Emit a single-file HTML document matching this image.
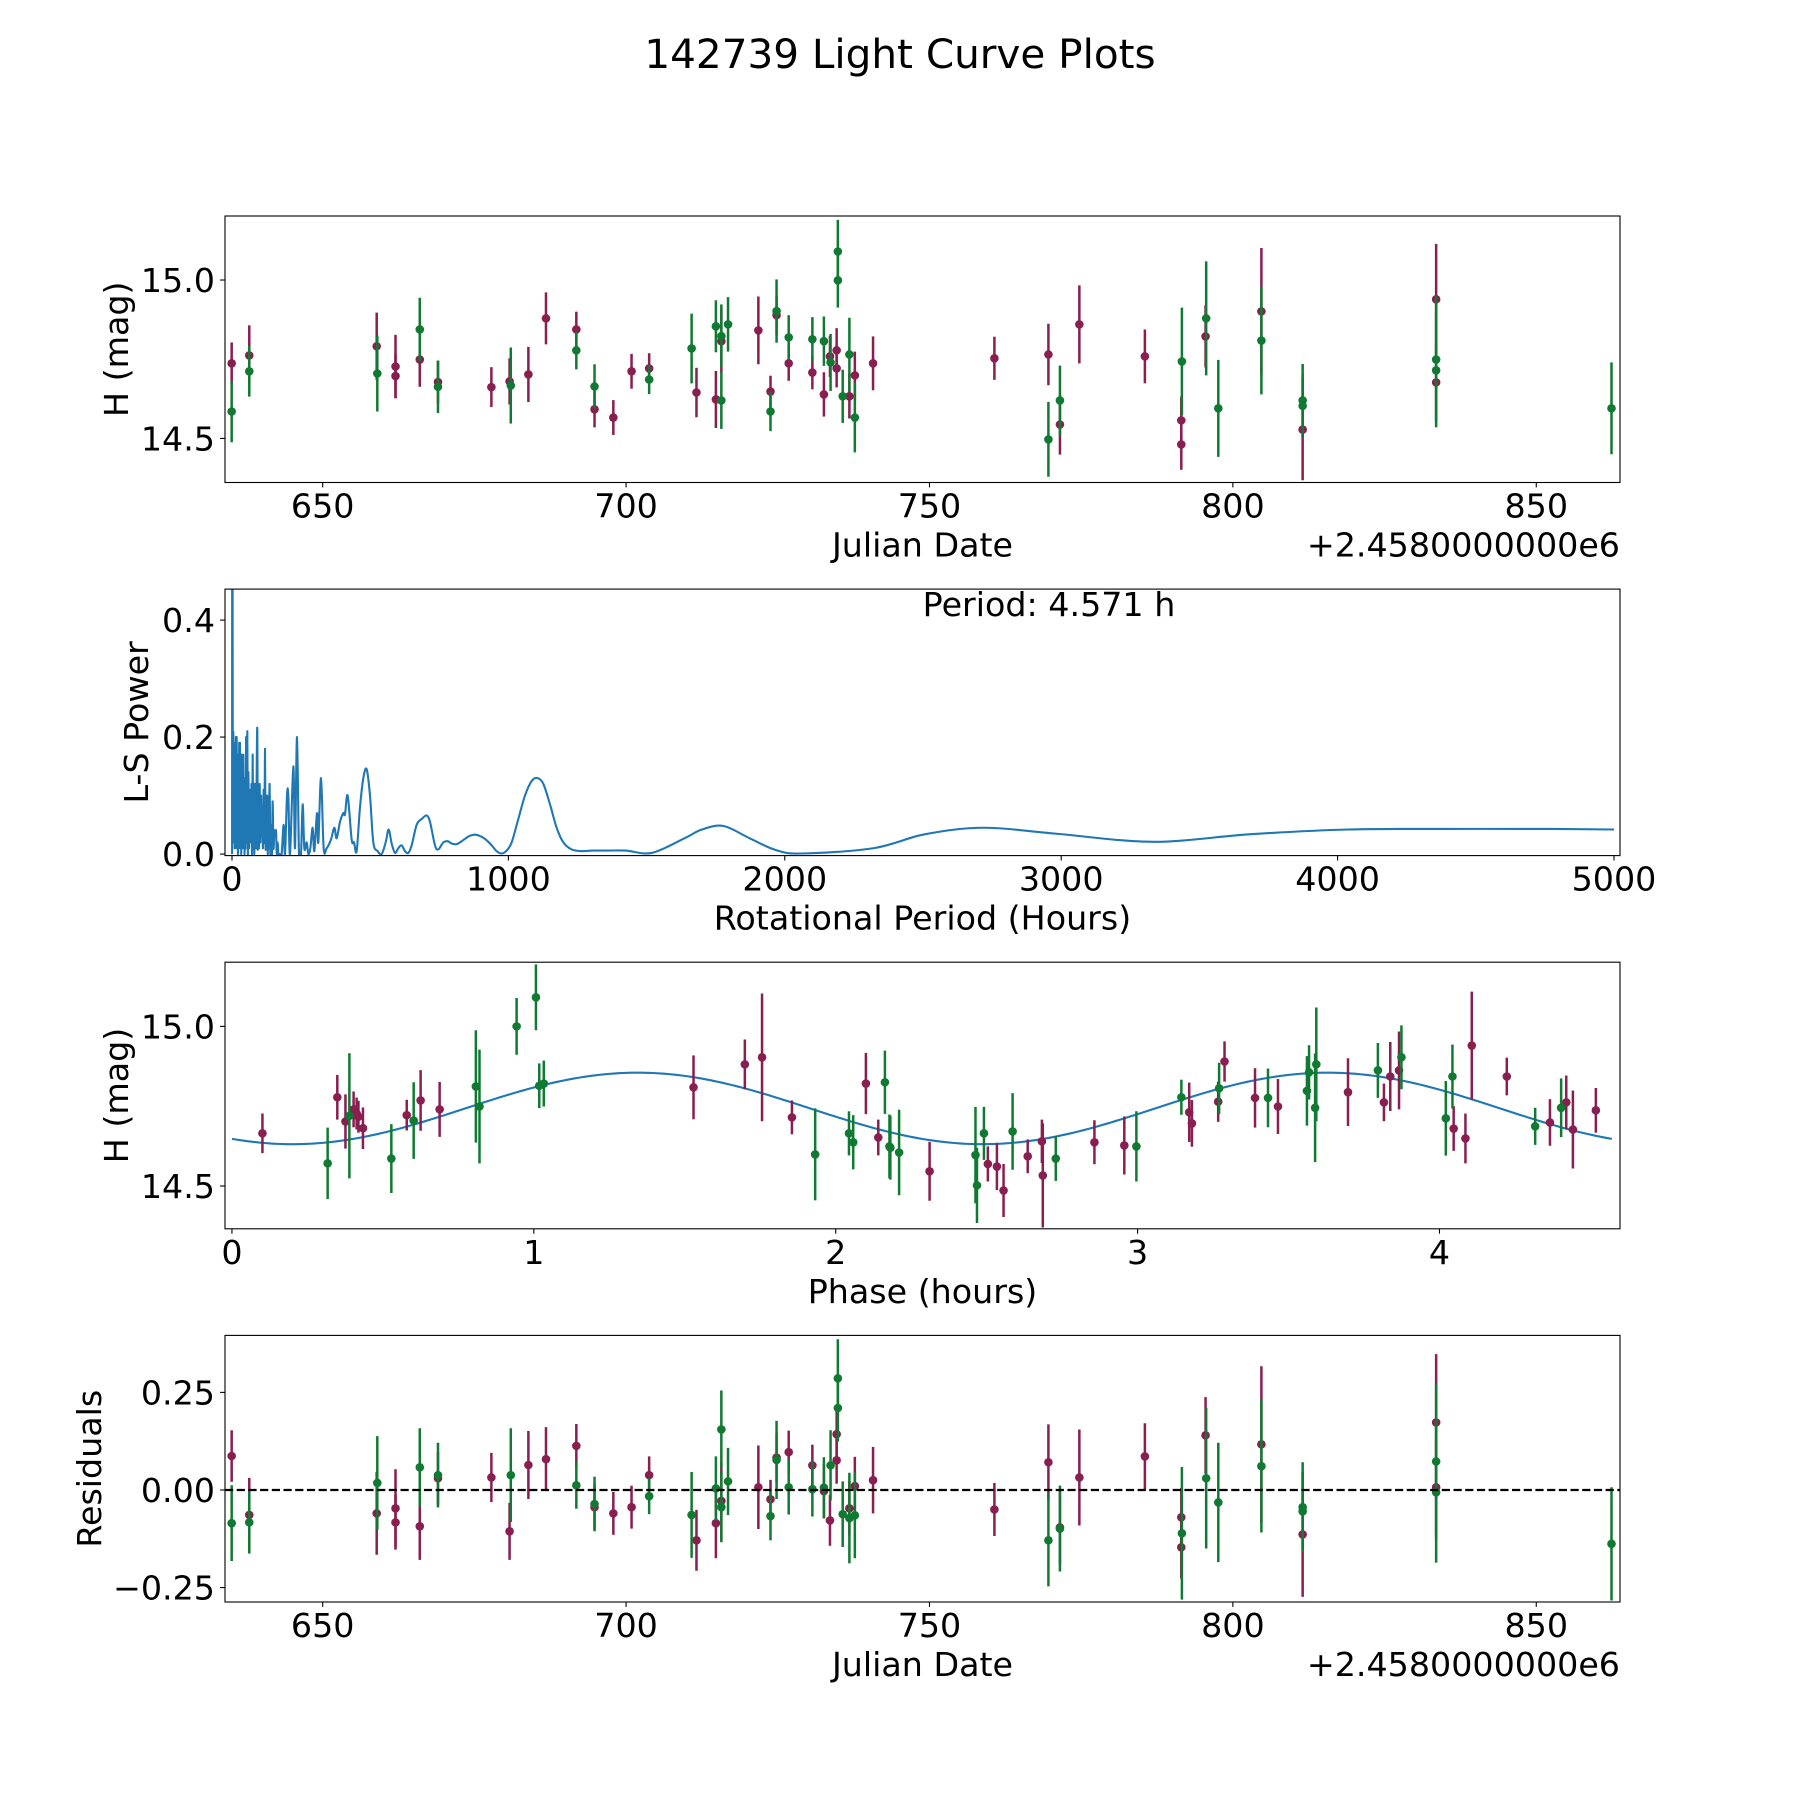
<!DOCTYPE html>
<html><head><meta charset="utf-8"><title>142739 Light Curve Plots</title>
<style>
html,body{margin:0;padding:0;background:#fff}
svg{display:block}
text{font-family:"DejaVu Sans","Liberation Sans",sans-serif;fill:#000}
</style></head>
<body>
<svg id="fig" xmlns="http://www.w3.org/2000/svg" width="1800" height="1800" viewBox="0 0 1800 1800">
<rect x="0" y="0" width="1800" height="1800" fill="#fff"/>
<text x="900" y="68" font-size="40.5" text-anchor="middle">142739 Light Curve Plots</text>
</svg>
<script>
// ---------- Panel 1 / 4 data: observations (two filters) ----------
const magDates = [635.0,637.9,658.9,662.0,662.0,666.0,669.0,677.8,680.8,683.9,686.8,691.8,694.8,697.9,700.9,703.8,711.6,714.8,715.7,721.8,723.8,724.8,726.8,730.7,732.6,733.6,734.7,734.7,736.8,737.7,740.7,760.7,769.6,771.5,774.7,785.5,791.5,791.5,795.5,804.7,811.5,833.5,833.5];
const magH = [14.737,14.762,14.791,14.727,14.697,14.749,14.678,14.662,14.68,14.702,14.879,14.844,14.592,14.566,14.712,14.721,14.645,14.623,14.807,14.841,14.648,14.889,14.737,14.708,14.639,14.759,14.778,14.721,14.633,14.699,14.737,14.753,14.765,14.544,14.86,14.759,14.557,14.481,14.822,14.901,14.528,14.939,14.677];
const magErr = [.066,.095,.106,.1,.07,.086,.068,.063,.073,.087,.082,.056,.057,.055,.055,.048,.078,.09,.1,.107,.05,.062,.055,.053,.07,.065,.07,.06,.07,.075,.085,.068,.097,.095,.123,.085,.075,.08,.098,.2,.16,.175,.12];
const magRes = [.087,-.064,-.06,-.047,-.083,-.093,.03,.032,-.106,.064,.079,.113,-.044,-.06,-.044,.038,-.129,-.085,-.028,.007,-.024,.083,.097,.063,-.003,-.078,.143,.076,-.047,.01,.025,-.05,.071,-.096,.032,.086,-.07,-.147,.14,.117,-.114,.173,.007];

const grnDates = [635.0,637.9,659.0,666.0,669.0,681.0,691.8,694.8,703.8,710.8,714.8,715.7,715.7,716.8,723.8,724.8,726.8,730.7,732.6,733.7,734.9,734.9,736.8,735.7,737.7,769.6,771.5,791.6,795.6,797.6,804.7,811.5,811.5,833.5,833.5,862.4];
const grnH = [14.585,14.712,14.705,14.844,14.663,14.667,14.778,14.664,14.686,14.784,14.854,14.823,14.62,14.86,14.585,14.902,14.819,14.813,14.807,14.74,15.09,14.999,14.765,14.633,14.566,14.497,14.62,14.743,14.879,14.595,14.809,14.62,14.603,14.749,14.715,14.595];
const grnErr = [.097,.08,.12,.1,.083,.12,.06,.07,.046,.11,.082,.1,.09,.086,.062,.1,.07,.07,.078,.09,.1,.086,.116,.084,.11,.118,.11,.17,.18,.153,.17,.115,.1,.2,.18,.145];
const grnRes = [-.085,-.083,.018,.058,.038,.038,.012,-.036,-.016,-.064,.004,.155,-.044,.022,-.067,.077,.007,.002,.006,.063,.286,.21,-.072,-.062,-.065,-.129,-.099,-.111,.03,-.032,.061,-.044,-.055,.073,-.006,-.138];

// ---------- Panel 2 data: Lomb-Scargle periodogram ----------
const lsPeriod = [0.3,1.2,3,4.8,6.5,8,9.5,10.9,12.5,14,15.5,16.9,18.5,20,21.5,22.9,24.5,26,27.5,28.9,30.5,32,33.5,35,36.5,38,39.5,41,42.5,44,45.5,47,49,51,53,55.5,57.5,59.5,61.5,63.5,65.5,67,68.7,70.5,72.5,74.8,77,79,80.8,82.5,84,85.6,87.5,89.5,91.7,93.5,95.5,97.7,100,102.5,105,107.5,109.7,112,114.5,117,119.4,121.5,123.5,125.4,127.5,129.5,131.4,133.5,136,138.7,141,144.7,147,150,153.2,156,159.2,162,165,167.6,170,173.7,179.7,186.9,191.8,199,203.8,209.8,221.9,227.9,235.2,242.4,249.6,255.7,261.7,270.1,276.2,283.4,291.8,297.9,307.5,312.3,322,331.6,342.5,358.2,370.2,378.7,390.7,402.8,408.8,418.5,432.9,441.4,451,463.1,475.2,487.2,499.3,511.3,527,541.5,556,566.8,577.7,589.7,601.8,613.8,625.9,638,650,668.1,686.2,704.3,716.4,734.4,746.5,764.6,780.3,794.7,812.8,830.9,855,873.1,891.2,915.3,939.5,957.6,975.6,993.7,1011.8,1035.9,1060,1084.2,1104.7,1126.4,1150.5,1174.6,1198.7,1228.9,1265.1,1301.3,1331,1361.6,1425,1519,1637,1700,1778,1873,1967,2061,2320,2508,2720,2979,3332,3686,4039,4392,4745,5000];
const lsPower = [0.0,0.9,0.05,0.209,0.02,0.19,0.01,0.18,0.03,0.2,0.01,0.2,0.04,0.17,0.0,0.15,0.02,0.19,0.01,0.19,0.05,0.16,0.0,0.17,0.02,0.15,0.01,0.17,0.03,0.12,0.0,0.13,0.01,0.2,0.02,0.21,0.0,0.14,0.01,0.11,0.03,0.09,0.02,0.12,0.0,0.17,0.01,0.1,0.0,0.12,0.02,0.1,0.01,0.15,0.21,0.01,0.09,0.01,0.12,0.02,0.1,0.03,0.08,0.01,0.11,0.02,0.18,0.01,0.07,0.01,0.1,0.0,0.08,0.01,0.12,0.0,0.05,0.0,0.09,0.01,0.04,0.03,0.04,0.0,0.02,0.0,0.0,0.0,0.0,0.05,0.0,0.1,0.1,0.0,0.15,0.01,0.2,0.0,0.0,0.085,0.01,0.02,0.0,0.01,0.045,0.005,0.07,0.02,0.13,0.01,0.01,0.025,0.045,0.027,0.055,0.07,0.068,0.1,0.025,0.02,0.005,0.08,0.13,0.145,0.1,0.02,0.005,0.0,0.02,0.042,0.018,0.002,0.01,0.015,0.005,0.002,0.015,0.05,0.06,0.066,0.055,0.015,0.008,0.02,0.022,0.018,0.017,0.022,0.03,0.033,0.032,0.026,0.015,0.005,0.001,0.006,0.02,0.06,0.1,0.125,0.13,0.12,0.085,0.045,0.02,0.008,0.005,0.006,0.006,0.006,0.006,0.002,0.027,0.042,0.048,0.027,0.007,0.001,0.01,0.034,0.045,0.035,0.021,0.034,0.042,0.043,0.043,0.042];
const periodLabel = "Period: 4.571 h";

// ---------- Panel 3 data: phase-folded ----------
const magPhase = [0.101,0.349,0.376,0.403,0.413,0.419,0.434,0.579,0.625,0.688,1.529,1.699,1.756,1.855,2.1,2.141,2.311,2.504,2.534,2.556,2.636,2.683,2.686,2.857,2.956,3.171,3.18,3.267,3.288,3.389,3.465,3.697,3.816,3.837,3.866,4.047,4.086,4.107,4.223,4.366,4.42,4.442,4.518];
const magPhH = [14.665,14.778,14.702,14.74,14.727,14.717,14.681,14.722,14.768,14.74,14.809,14.881,14.903,14.715,14.821,14.652,14.546,14.569,14.561,14.486,14.593,14.64,14.533,14.637,14.627,14.731,14.696,14.764,14.89,14.776,14.749,14.794,14.762,14.843,14.862,14.68,14.649,14.94,14.843,14.699,14.762,14.677,14.737];
const magPhErr = [.062,.07,.085,.056,.05,.05,.065,.048,.095,.086,.1,.078,.2,.053,.096,.056,.092,.055,.074,.083,.053,.068,.163,.069,.091,.093,.073,.063,.063,.093,.086,.106,.059,.108,.122,.07,.078,.169,.059,.073,.084,.122,.07];
const grnPhase = [0.317,0.389,0.528,0.602,0.808,0.82,0.943,1.007,1.018,1.033,1.932,2.044,2.058,2.163,2.178,2.181,2.21,2.463,2.468,2.491,2.586,2.729,2.996,3.145,3.27,3.432,3.561,3.568,3.592,3.588,3.796,3.874,4.021,4.043,4.317,4.403];
const grnPhH = [14.571,14.72,14.586,14.705,14.812,14.749,15.0,15.091,14.814,14.821,14.599,14.665,14.637,14.825,14.624,14.62,14.605,14.597,14.502,14.665,14.671,14.586,14.624,14.778,14.806,14.776,14.798,14.856,14.881,14.745,14.862,14.903,14.712,14.843,14.687,14.745];
const grnPhErr = [.112,.196,.108,.12,.176,.178,.089,.103,.07,.072,.144,.069,.085,.099,.1,.1,.134,.151,.118,.083,.12,.07,.11,.055,.08,.092,.109,.085,.178,.17,.086,.1,.117,.1,.058,.092];
const fitMean = 14.743, fitAmp = 0.112, fitPeakPhase = 1.344, fitPeriod = 4.571;

// ---------- Tick labels ----------
const jdTicks = [650,700,750,800,850];
const magTicks = [14.5,15.0];
const lsXTicks = [0,1000,2000,3000,4000,5000];
const lsYTicks = [0.0,0.2,0.4];
const phaseTicks = [0,1,2,3,4];
const resTicks = [-0.25,0.0,0.25];

const NS = "http://www.w3.org/2000/svg";
const fig = document.getElementById('fig');
const MAG = '#891e50', GRN = '#117a32', BLUE = '#1f77b4';
const FS = 33.3;

function mk(tag, attrs, parent){
  const e = document.createElementNS(NS, tag);
  for (const k in attrs) e.setAttribute(k, attrs[k]);
  (parent||fig).appendChild(e);
  return e;
}
function makeAxis(name, L, R, T, B, xlim, ylim){
  const g = mk('g', {});
  
  
  const cid = 'clip-' + name;
  const cp = mk('clipPath', {id: cid}, g);
  mk('rect', {x: L, y: T, width: R-L, height: B-T}, cp);
  const plot = mk('g', {'clip-path': 'url(#' + cid + ')'}, g);
  
  
  return {g, plot, L, R, T, B,
    sx: v => L + (v - xlim[0]) / (xlim[1] - xlim[0]) * (R - L),
    sy: v => B - (v - ylim[0]) / (ylim[1] - ylim[0]) * (B - T)};
}
function frame(ax){
  const r = mk('rect', {x: ax.L, y: ax.T, width: ax.R-ax.L, height: ax.B-ax.T, fill: 'none', stroke: '#000', 'stroke-width': 1.1}, ax.g);
  
  
}
function xTicks(ax, vals, fmt){
  vals.forEach(v => {
    const x = ax.sx(v);
    mk('line', {x1: x, x2: x, y1: ax.B, y2: ax.B + 4.9, stroke: '#000', 'stroke-width': 1.1}, ax.g);
    const t = mk('text', {x: x, y: ax.B + 35, 'font-size': FS, 'text-anchor': 'middle'}, ax.g);
    t.textContent = fmt(v);
    
    
  });
}
function yTicks(ax, vals, fmt){
  vals.forEach(v => {
    const y = ax.sy(v);
    mk('line', {x1: ax.L - 4.9, x2: ax.L, y1: y, y2: y, stroke: '#000', 'stroke-width': 1.1}, ax.g);
    const t = mk('text', {x: ax.L - 10, y: y + 12, 'font-size': FS, 'text-anchor': 'end'}, ax.g);
    t.textContent = fmt(v);
    
    
  });
}
function xLabel(ax, txt, name){
  const t = mk('text', {x: (ax.L + ax.R)/2, y: ax.B + 74, 'font-size': FS, 'text-anchor': 'middle'}, ax.g);
  t.textContent = txt;
  
  
}
function yLabel(ax, txt, bx, name){
  const cy = (ax.T + ax.B)/2;
  const t = mk('text', {x: bx, y: cy, 'font-size': FS, 'text-anchor': 'middle', transform: 'rotate(-90 ' + bx + ' ' + cy + ')'}, ax.g);
  t.textContent = txt;
  
  
}
function offsetText(ax){
  const t = mk('text', {x: ax.R, y: ax.B + 74, 'font-size': FS, 'text-anchor': 'end'}, ax.g);
  t.textContent = '+2.4580000000e6';
  
  
}
function errPoints(ax, xs, ys, es, color, name){
  const g = mk('g', {}, ax.plot);
  
  
  xs.forEach((xv, i) => {
    const x = ax.sx(xv);
    const l = mk('line', {x1: x, x2: x, y1: ax.sy(ys[i] - es[i]), y2: ax.sy(ys[i] + es[i]), stroke: color, 'stroke-width': 2.5}, g);
    
    
    const c = mk('circle', {cx: x, cy: ax.sy(ys[i]), r: 4.3, fill: color}, g);
    
    
  });
}
function smoothPath(pts){
  let d = 'M' + pts[0][0].toFixed(2) + ' ' + pts[0][1].toFixed(2);
  for (let i = 0; i < pts.length - 1; i++) {
    const p0 = pts[Math.max(0, i-1)], p1 = pts[i], p2 = pts[i+1], p3 = pts[Math.min(pts.length-1, i+2)];
    const c1x = p1[0] + (p2[0]-p0[0])/6, c1y = p1[1] + (p2[1]-p0[1])/6;
    const c2x = p2[0] - (p3[0]-p1[0])/6, c2y = p2[1] - (p3[1]-p1[1])/6;
    d += 'C' + c1x.toFixed(2) + ' ' + c1y.toFixed(2) + ' ' + c2x.toFixed(2) + ' ' + c2y.toFixed(2) + ' ' + p2[0].toFixed(2) + ' ' + p2[1].toFixed(2);
  }
  return d;
}
const jdFmt = v => String(v);
const magFmt = v => v.toFixed(1);

// ---------- Panel 1 ----------
const ax1 = makeAxis('light-curve-panel', 225, 1620, 216, 482.5, [633.9, 863.8], [14.361, 15.202]);
errPoints(ax1, magDates, magH, magErr, MAG, 'filter-1-series');
errPoints(ax1, grnDates, grnH, grnErr, GRN, 'filter-2-series');
frame(ax1); xTicks(ax1, jdTicks, jdFmt); yTicks(ax1, magTicks, magFmt);
xLabel(ax1, 'Julian Date', 'x-axis-title'); offsetText(ax1); yLabel(ax1, 'H (mag)', 128, 'y-axis-title');

// ---------- Panel 2 ----------
const ax2 = makeAxis('periodogram-panel', 225, 1620, 589.1, 855.6, [-25.3, 5021.7], [-0.0026, 0.453]);
const lsPts = lsPeriod.map((p, i) => [ax2.sx(p), ax2.sy(lsPower[i])]);
const ls = mk('path', {d: smoothPath(lsPts), fill: 'none', stroke: BLUE, 'stroke-width': 2.1, 'stroke-linejoin': 'round'}, ax2.plot);


frame(ax2); xTicks(ax2, lsXTicks, v => String(v)); yTicks(ax2, lsYTicks, v => v.toFixed(1));
xLabel(ax2, 'Rotational Period (Hours)', 'x-axis-title'); yLabel(ax2, 'L-S Power', 148, 'y-axis-title');
const pt = mk('text', {x: 1049, y: 616, 'font-size': FS, 'text-anchor': 'middle'}, ax2.g);
pt.textContent = periodLabel;



// ---------- Panel 3 ----------
const ax3 = makeAxis('phase-folded-panel', 225, 1620, 962.2, 1228.8, [-0.023, 4.598], [14.366, 15.201]);
let d3 = '';
for (let i = 0; i <= 300; i++) {
  const ph = fitPeriod * i / 300;
  const m = fitMean + fitAmp * Math.cos(2 * Math.PI * (ph - fitPeakPhase) / (fitPeriod / 2));
  d3 += (i ? 'L' : 'M') + ax3.sx(ph).toFixed(2) + ' ' + ax3.sy(m).toFixed(2);
}
const fit = mk('path', {d: d3, fill: 'none', stroke: BLUE, 'stroke-width': 2.1}, ax3.plot);


errPoints(ax3, magPhase, magPhH, magPhErr, MAG, 'filter-1-phase-series');
errPoints(ax3, grnPhase, grnPhH, grnPhErr, GRN, 'filter-2-phase-series');
frame(ax3); xTicks(ax3, phaseTicks, v => String(v)); yTicks(ax3, magTicks, magFmt);
xLabel(ax3, 'Phase (hours)', 'x-axis-title'); yLabel(ax3, 'H (mag)', 128, 'y-axis-title');

// ---------- Panel 4 ----------
const ax4 = makeAxis('residuals-panel', 225, 1620, 1335.4, 1602, [633.9, 863.8], [-0.287, 0.396]);
errPoints(ax4, magDates, magRes, magErr, MAG, 'filter-1-residuals');
errPoints(ax4, grnDates, grnRes, grnErr, GRN, 'filter-2-residuals');
const zl = mk('line', {x1: ax4.L, x2: ax4.R, y1: ax4.sy(0), y2: ax4.sy(0), stroke: '#000', 'stroke-width': 2.2, 'stroke-dasharray': '8.2 3.5'}, ax4.plot);


frame(ax4); xTicks(ax4, jdTicks, jdFmt);
yTicks(ax4, resTicks, v => (v < 0 ? '\u2212' : '') + Math.abs(v).toFixed(2));
xLabel(ax4, 'Julian Date', 'x-axis-title'); offsetText(ax4); yLabel(ax4, 'Residuals', 101, 'y-axis-title');
</script>
</body></html>
